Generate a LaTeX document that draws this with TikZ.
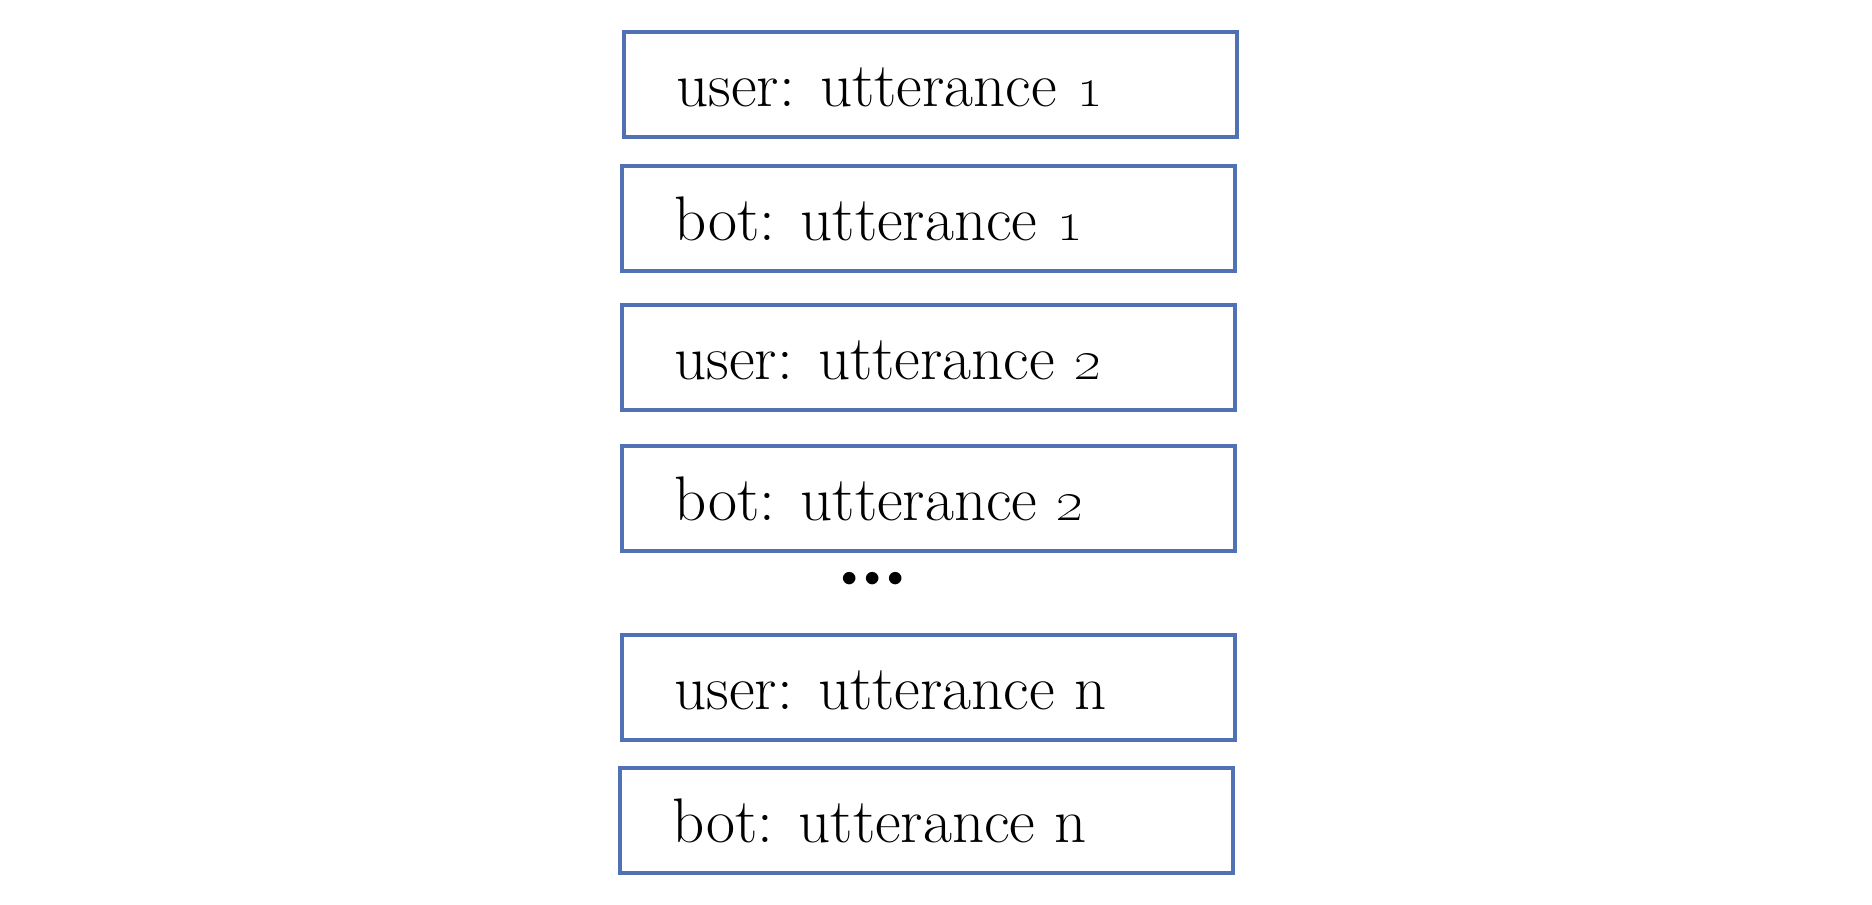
\documentclass[tikz,border=0pt]{standalone}
\usetikzlibrary{calc}
\definecolor{boxblue}{RGB}{80,114,180}
\newcommand{\dotbox}{\makebox[11.5pt]{\textbullet}}
\begin{document}
\begin{tikzpicture}[x=0.5pt,y=-0.5pt,
  box/.style={draw=boxblue,line width=2pt,rectangle,minimum width=306.5pt,minimum height=52.5pt,inner sep=0pt,anchor=north west},
  txt/.style={anchor=base west,inner sep=0pt,font=\fontsize{31.5}{35}\selectfont},
  dots/.style={inner sep=0pt,font=\fontsize{28}{30}\selectfont}]
\useasboundingbox[fill=white] (0,0) rectangle (1872,904);
\node[box] (b1) at (622,30) {};
\node[box] (b2) at (620,164) {};
\node[box] (b3) at (620,303) {};
\node[box] (b4) at (620,444) {};
\node[box] (b5) at (620,633) {};
\node[box] (b6) at (618,766) {};
\node[txt] (t1) at ($(b1.north west)+(54,76)$) {user: utterance \oldstylenums{1}};
\node[txt] (t2) at ($(b2.north west)+(54,76)$) {bot: utterance \oldstylenums{1}};
\node[txt] (t3) at ($(b3.north west)+(54,76)$) {user: utterance \oldstylenums{2}};
\node[txt] (t4) at ($(b4.north west)+(54,76)$) {bot: utterance \oldstylenums{2}};
\node[txt] (t5) at ($(b5.north west)+(54,76)$) {user: utterance n};
\node[txt] (t6) at ($(b6.north west)+(54,76)$) {bot: utterance n};
\node[dots] (d) at (873,583) {\dotbox\dotbox\dotbox};
\end{tikzpicture}
\end{document}
